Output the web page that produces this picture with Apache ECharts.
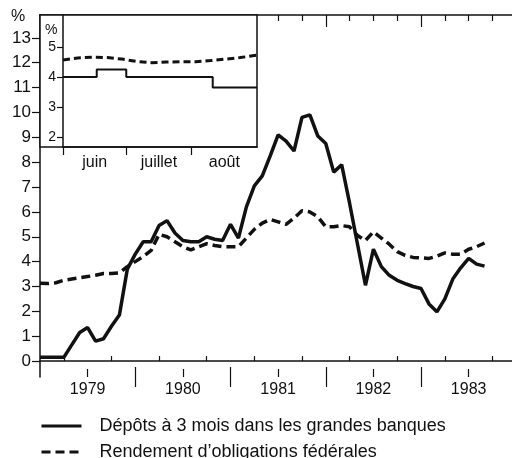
<!DOCTYPE html>
<html>
<head>
<meta charset="utf-8">
<script src="https://cdn.jsdelivr.net/npm/echarts@6/dist/echarts.min.js"></script>
<style>
  html, body { margin: 0; padding: 0; background: #fff; }
  #chart { width: 512px; height: 458px; }
</style>
</head>
<body>
<div id="chart"></div>
<script>
// mois écoulés depuis janvier 1979
const months = [0, 1, 2, 3, 4, 5, 6, 7, 8, 9, 10, 11, 12, 13, 14, 15, 16, 17, 18, 19,
  20, 21, 22, 23, 24, 25, 26, 27, 28, 29, 30, 31, 32, 33, 34, 35, 36, 37, 38, 39,
  40, 41, 42, 43, 44, 45, 46, 47, 48, 49, 50, 51, 52, 53, 54, 55, 56];
const depots = [0.15, 0.15, 0.15, 0.15, 0.65, 1.15, 1.35, 0.8, 0.9, 1.4, 1.85, 3.7,
  4.3, 4.8, 4.8, 5.45, 5.65, 5.15, 4.85, 4.8, 4.8, 5.0, 4.9, 4.85, 5.5, 4.95, 6.2, 7.05,
  7.45, 8.25, 9.1, 8.85, 8.45, 9.8, 9.9, 9.05, 8.75, 7.6, 7.9, 6.35, 4.7, 3.05, 4.5,
  3.8, 3.45, 3.25, 3.12, 3.0, 2.92, 2.3, 1.98, 2.5, 3.3, 3.75, 4.13, 3.9, 3.82];
const obligations = [3.13, 3.12, 3.15, 3.25, 3.3, 3.35, 3.4, 3.45, 3.52, 3.52, 3.55,
  3.8, 4.0, 4.2, 4.45, 5.1, 5.0, 4.8, 4.6, 4.47, 4.6, 4.72, 4.65, 4.6, 4.6, 4.6, 4.95,
  5.3, 5.55, 5.7, 5.6, 5.5, 5.75, 6.05, 6.0, 5.8, 5.4, 5.4, 5.45, 5.4, 5.05, 4.85, 5.2,
  4.95, 4.7, 4.4, 4.25, 4.17, 4.15, 4.13, 4.22, 4.35, 4.3, 4.3, 4.5, 4.6, 4.75];

const yearLabels = ['1979', '1980', '1981', '1982', '1983'];
const yearLabelPos = [6, 18, 30, 42, 54];
const yearTicks = [12, 24, 36, 48];
const quarterTicks = [3, 9, 15, 21, 27, 33, 39, 45, 51, 57];
const yTicks = [0, 1, 2, 3, 4, 5, 6, 7, 8, 9, 10, 11, 12, 13];

// encart : jours depuis le 1er juin 1983
const insetStepDays = [0, 16, 30, 71, 92];
const insetDepots = [4.0, 4.25, 4.0, 3.65, 3.65];
const insetBondDays = [0, 7, 14, 21, 28, 35, 42, 49, 56, 63, 70, 77, 84, 92];
const insetBonds = [4.57, 4.64, 4.66, 4.65, 4.6, 4.52, 4.48, 4.5, 4.51, 4.51, 4.55, 4.6, 4.65, 4.73];
const insetMonths = ['juin', 'juillet', 'août'];
const insetMonthPos = [15, 45.5, 76.5];
const insetMonthTicks = [0, 30, 61];
const insetYTicks = [2, 3, 4, 5];

const nameDepots = 'Dépôts à 3 mois dans les grandes banques';
const nameOblig = 'Rendement d’obligations fédérales';

const ink = '#111';
const xMax = 59.46;
const font = 'Liberation Sans, Arial, sans-serif';

const chart = echarts.init(document.getElementById('chart'));

const hiddenX = (extra) => Object.assign({
  gridIndex: 0, type: 'value', min: 0, max: xMax, position: 'bottom',
  axisLine: { show: false }, axisLabel: { show: false }, splitLine: { show: false }
}, extra);

const legendItem = (name, top) => ({
  data: [name],
  orient: 'vertical', left: 35, top: top,
  itemWidth: 40, itemHeight: 14,
  itemStyle: { opacity: 0 },
  lineStyle: { width: 3 },
  textStyle: { fontSize: 18, color: ink, padding: [0, 0, 0, 13] }
});

const option = {
  animation: false,
  backgroundColor: '#fff',
  textStyle: { fontFamily: font, color: ink },
  grid: [
    { left: 40, top: 15, right: 0, bottom: 81 },
    { left: 63, top: 15, width: 194, height: 132 }
  ],
  xAxis: [
    {
      gridIndex: 0, type: 'value', min: 0, max: xMax, position: 'bottom',
      axisLine: { lineStyle: { color: ink, width: 1.5 } },
      axisTick: { inside: true, length: 5, customValues: quarterTicks, lineStyle: { color: ink, width: 1.2 } },
      axisLabel: {
        customValues: yearLabelPos, fontSize: 16, color: ink, margin: 5,
        formatter: (v) => yearLabels[yearLabelPos.indexOf(v)]
      },
      splitLine: { show: false }
    },
    hiddenX({ axisTick: { inside: true, length: 8, customValues: yearLabelPos, lineStyle: { color: ink, width: 1.2 } } }),
    hiddenX({ axisTick: { inside: true, length: 10, customValues: yearTicks, lineStyle: { color: ink, width: 1.2 } } }),
    hiddenX({ axisTick: { inside: false, length: 10, customValues: yearTicks, lineStyle: { color: ink, width: 1.2 } } }),
    hiddenX({
      position: 'top', axisLine: { show: true, lineStyle: { color: ink, width: 1.5 } },
      axisTick: { inside: true, length: 6, customValues: quarterTicks.concat(yearLabelPos), lineStyle: { color: ink, width: 1.2 } }
    }),
    hiddenX({ position: 'top', axisTick: { inside: true, length: 12, customValues: yearTicks, lineStyle: { color: ink, width: 1.2 } } }),
    {
      gridIndex: 1, type: 'value', min: 0, max: 92, position: 'bottom', z: 6,
      axisLine: { lineStyle: { color: ink, width: 1.5 } },
      axisTick: { inside: false, length: 8, customValues: insetMonthTicks, lineStyle: { color: ink, width: 1.2 } },
      axisLabel: {
        customValues: insetMonthPos, fontSize: 16, color: ink, margin: 8,
        formatter: (v) => insetMonths[insetMonthPos.indexOf(v)]
      },
      splitLine: { show: false }
    }
  ],
  yAxis: [
    {
      gridIndex: 0, type: 'value', min: -0.64, max: 13.92,
      axisLine: { show: true, lineStyle: { color: ink, width: 1.5 } },
      axisTick: { show: true, length: 8, customValues: yTicks, lineStyle: { color: ink, width: 1.2 } },
      axisLabel: { customValues: yTicks, fontSize: 17, color: ink, margin: 9 },
      splitLine: { show: false }
    },
    {
      gridIndex: 1, type: 'value', min: 1.67, max: 6.07, z: 6,
      axisLine: { show: true, lineStyle: { color: ink, width: 1.5 } },
      axisTick: { show: true, length: 6, customValues: insetYTicks, lineStyle: { color: ink, width: 1.2 } },
      axisLabel: { customValues: insetYTicks, fontSize: 14, color: ink, margin: 7 },
      splitLine: { show: false }
    }
  ],
  legend: [legendItem(nameDepots, 412), legendItem(nameOblig, 438)],
  graphic: [
    {
      type: 'rect', z: 5,
      shape: { x: 40, y: 15, width: 217, height: 132 },
      style: { fill: '#fff', stroke: ink, lineWidth: 1.5 }
    },
    { type: 'text', left: 11, top: 9, z: 6, style: { text: '%', fontSize: 16, fill: ink, fontFamily: font } },
    { type: 'text', left: 45, top: 23, z: 6, style: { text: '%', fontSize: 14, fill: ink, fontFamily: font } }
  ],
  series: [
    {
      name: nameDepots, type: 'line',
      xAxisIndex: 0, yAxisIndex: 0, symbol: 'none',
      lineStyle: { color: ink, width: 3.5 }, itemStyle: { color: ink },
      data: months.map((m, i) => [m, depots[i]])
    },
    {
      name: nameOblig, type: 'line',
      xAxisIndex: 0, yAxisIndex: 0, symbol: 'none',
      lineStyle: { color: ink, width: 3.5, type: [9, 5] }, itemStyle: { color: ink },
      data: months.map((m, i) => [m, obligations[i]])
    },
    {
      name: 'encart dépôts', type: 'line', step: 'end', z: 7,
      xAxisIndex: 6, yAxisIndex: 1, symbol: 'none',
      lineStyle: { color: ink, width: 2 },
      data: insetStepDays.map((d, i) => [d, insetDepots[i]])
    },
    {
      name: 'encart obligations', type: 'line', z: 7,
      xAxisIndex: 6, yAxisIndex: 1, symbol: 'none',
      lineStyle: { color: ink, width: 3, type: [7, 4] },
      data: insetBondDays.map((d, i) => [d, insetBonds[i]])
    }
  ]
};

chart.setOption(option);
</script>
</body>
</html>
